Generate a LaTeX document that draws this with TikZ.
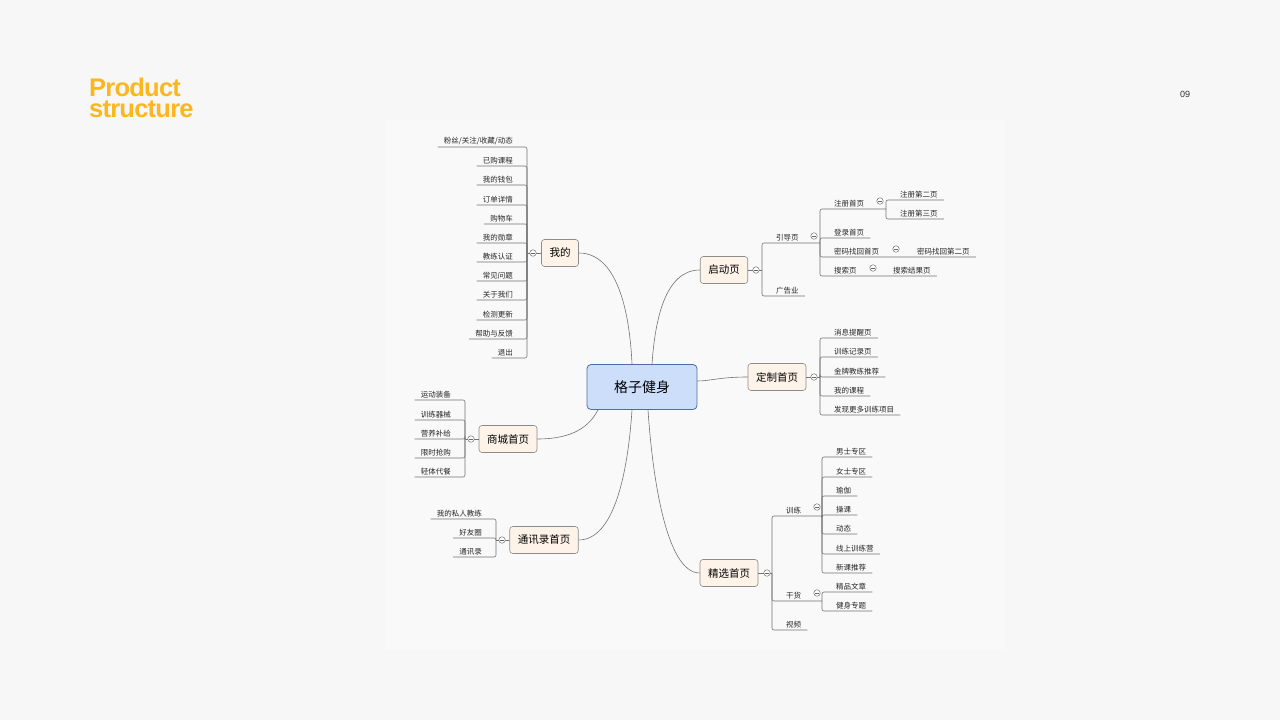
\documentclass[tikz,border=0pt]{standalone}
\usepackage{fontspec}
\setmainfont{Liberation Sans}
\newfontfamily\cjk{Noto Sans CJK SC}
\newfontfamily\ttl[LetterSpace=-3]{Liberation Sans Bold}
\definecolor{ttlc}{RGB}{253,183,30}
\definecolor{cfill}{RGB}{204,222,250}
\definecolor{cdraw}{RGB}{80,110,160}
\definecolor{mfill}{RGB}{253,243,232}
\begin{document}
\begin{tikzpicture}[x=1pt,y=-1pt,
  leaf/.style={font=\cjk\fontsize{7.5}{9}\selectfont,text=black!85,inner xsep=6pt,inner ysep=2pt},
  br/.style={draw=black!55,line width=0.6pt,rounded corners=2pt},
  conn/.style={draw=black!55,line width=0.6pt},
  circ/.style={circle,draw=black!55,fill=white,line width=0.5pt,minimum size=6.5pt,inner sep=0pt,path picture={\draw[black!60,line width=0.5pt] ([xshift=-1.8pt]path picture bounding box.center) -- ([xshift=1.8pt]path picture bounding box.center);}},
  mainn/.style={draw=black!45,fill=mfill,rounded corners=3pt,font=\cjk\fontsize{10.5}{12}\selectfont,minimum height=27pt,inner xsep=8pt,line width=0.6pt},
  centn/.style={draw=cdraw,fill=cfill,rounded corners=4pt,font=\cjk\fontsize{14}{15}\selectfont,minimum width=110pt,minimum height=45pt,line width=0.8pt}]
\useasboundingbox (0,0) rectangle (1280,720);
\fill[black!3] (0,0) rectangle (1280,720);
\fill[black!2.4] (385,120) rectangle (1005,650);
\node[anchor=base west,font=\ttl\fontsize{25.5}{25}\selectfont,text=ttlc,inner sep=0pt] (title1) at (89,96) {Product};
\node[anchor=base west,font=\ttl\fontsize{25.5}{25}\selectfont,text=ttlc,inner sep=0pt] (title2) at (89,117) {structure};
\node[font=\fontsize{9}{10}\selectfont,text=black!80] (pg) at (1185,94) {09};
\newcommand\leafR[5]{\node[leaf,anchor=south west] (#1) at (#2+8,#4) {#5};\draw[br] (#2,#3) |- (#1.south east);}
\newcommand\leafL[5]{\node[leaf,anchor=south east] (#1) at (#2-8,#4) {#5};\draw[br] (#2,#3) |- (#1.south west);}
% central and main
\node[centn] (c) at (642,387) {格子健身};
\node[mainn] (wd) at (560,253) {我的};
\node[mainn] (qd) at (724,270) {启动页};
\node[mainn] (dz) at (777,377) {定制首页};
\node[mainn] (sc) at (508,439) {商城首页};
\node[mainn] (tx) at (544,540) {通讯录首页};
\node[mainn] (jx) at (729,573) {精选首页};
\draw[conn] (wd.east) .. controls (620,253) and (630,320) .. (c.north-|632,0);
\draw[conn] (qd.west) .. controls (665,270) and (655,320) .. (c.north-|652,0);
\draw[conn] (dz.west) .. controls (720,377) and (710,381) .. (c.east|-0,381);
\draw[conn] (sc.east) .. controls (575,439) and (590,425) .. (c.south-|598,0);
\draw[conn] (tx.east) .. controls (615,540) and (628,470) .. (c.south-|632,0);
\draw[conn] (jx.west) .. controls (665,573) and (652,470) .. (c.south-|648,0);
% 我的
\draw[conn] (wd.west) -- (527,253);
\leafL{w1}{527}{253}{147}{粉丝/关注/收藏/动态}
\leafL{w2}{527}{253}{166}{已购课程}
\leafL{w3}{527}{253}{185}{我的钱包}
\leafL{w4}{527}{253}{205}{订单详情}
\leafL{w5}{527}{253}{224}{购物车}
\leafL{w6}{527}{253}{243}{我的勋章}
\leafL{w7}{527}{253}{262}{教练认证}
\leafL{w8}{527}{253}{281}{常见问题}
\leafL{w9}{527}{253}{300}{关于我们}
\leafL{w10}{527}{253}{320}{检测更新}
\leafL{w11}{527}{253}{339}{帮助与反馈}
\leafL{w12}{527}{253}{358}{退出}
\node[circ] (wdc) at (533,253) {};
% 商城
\draw[conn] (sc.west) -- (465,439);
\leafL{s1}{465}{439}{400}{运动装备}
\leafL{s2}{465}{439}{420}{训练器械}
\leafL{s3}{465}{439}{439}{营养补给}
\leafL{s4}{465}{439}{458}{限时抢购}
\leafL{s5}{465}{439}{477}{轻体代餐}
\node[circ] (scc) at (471,439) {};
% 通讯录
\draw[conn] (tx.west) -- (496,540);
\leafL{t1}{496}{540}{519}{我的私人教练}
\leafL{t2}{496}{540}{538}{好友圈}
\leafL{t3}{496}{540}{557}{通讯录}
\node[circ] (txc) at (502,540) {};
% 启动页
\draw[conn] (qd.east) -- (762,270);
\node[leaf,anchor=south west] (yd) at (770,243) {引导页};
\draw[br] (762,270) |- (820,243);
\leafR{gg}{762}{270}{296}{广告业}
\node[circ] (qdc) at (756,270) {};
\node[circ] (ydc) at (814,236) {};
\node[leaf,anchor=south west] (zc) at (828,209) {注册首页};
\draw[br] (820,243) |- (886,209);
\node[circ] (zcc) at (880,201) {};
\leafR{zc2}{886}{209}{200}{注册第二页}
\leafR{zc3}{886}{209}{219}{注册第三页}
\leafR{dl}{820}{243}{238}{登录首页}
\node[leaf,anchor=south west] (mm) at (828,257) {密码找回首页};
\node[leaf,anchor=south west] (mm2) at (911,257) {密码找回第二页};
\draw[br] (820,243) |- (mm2.south east);
\node[circ] (mmc) at (896,249) {};
\node[leaf,anchor=south west] (ss) at (828,276) {搜索页};
\node[leaf,anchor=south west] (ss2) at (887,276) {搜索结果页};
\draw[br] (820,243) |- (ss2.south east);
\node[circ] (ssc) at (873,268) {};
% 定制
\draw[conn] (dz.east) -- (820,377);
\leafR{d1}{820}{377}{338}{消息提醒页}
\leafR{d2}{820}{377}{357}{训练记录页}
\leafR{d3}{820}{377}{377}{金牌教练推荐}
\leafR{d4}{820}{377}{396}{我的课程}
\leafR{d5}{820}{377}{415}{发现更多训练项目}
\node[circ] (dzc) at (814,377) {};
% 精选
\draw[conn] (jx.east) -- (772,573);
\node[leaf,anchor=south west] (xl) at (780,516) {训练};
\draw[br] (772,573) |- (822,516);
\node[leaf,anchor=south west] (gh) at (780,601) {干货};
\draw[br] (772,573) |- (822,601);
\leafR{sp}{772}{573}{630}{视频}
\node[circ] (jxc) at (767,573) {};
\node[circ] (xlc) at (817,507) {};
\node[circ] (ghc) at (817,593) {};
\leafR{x1}{822}{516}{457}{男士专区}
\leafR{x2}{822}{516}{477}{女士专区}
\leafR{x3}{822}{516}{496}{瑜伽}
\leafR{x4}{822}{516}{515}{操课}
\leafR{x5}{822}{516}{534}{动态}
\leafR{x6}{822}{516}{554}{线上训练营}
\leafR{x7}{822}{516}{573}{新课推荐}
\leafR{g1}{822}{601}{592}{精品文章}
\leafR{g2}{822}{601}{611}{健身专题}
\end{tikzpicture}
\end{document}
